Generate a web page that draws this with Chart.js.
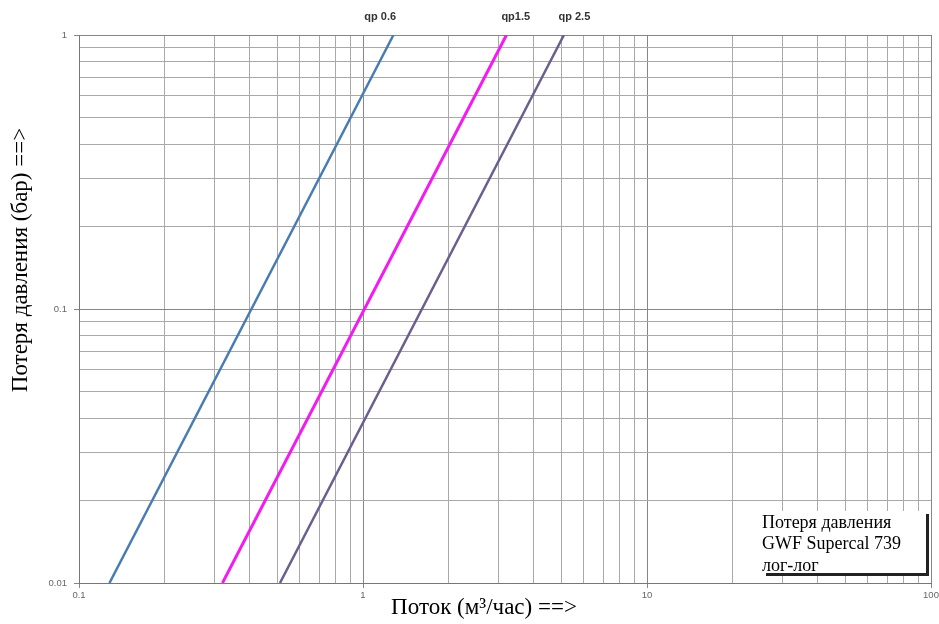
<!DOCTYPE html>
<html>
<head>
<meta charset="utf-8">
<script src="https://cdn.jsdelivr.net/npm/chart.js@4/dist/chart.umd.min.js"></script>
<style>
  html, body { margin: 0; padding: 0; background: #fff; }
  #wrap { width: 939px; height: 624px; }
</style>
</head>
<body>
<div id="wrap"><canvas id="myChart" width="939" height="624"></canvas></div>
<script>
// series names and end points (flow m3/h, loss bar)
var seriesNames = ["qp 0.6", "qp1.5", "qp 2.5"];
var seriesColors = ["#4a7cb2", "#f21bf0", "#6c5e8e"];
var lossValues = [0.01, 1];
var flowQp06 = [0.128, 1.28];
var flowQp15 = [0.32, 3.2];
var flowQp25 = [0.51, 5.1];
// where the qp names sit along the top (flow value)
var nameAt = [1.15, 3.45, 5.55];

// log axes: decade starts and the mantissas used for grid lines
var xDecades = [0.1, 1, 10];
var yDecades = [0.01, 0.1];
var mantissas = [1, 2, 3, 4, 5, 6, 7, 8, 9];
var xLabels = ["0.1", "1", "10", "100"];
var yLabels = ["0.01", "0.1", "1"];

function gridValues(decades, last) {
  var out = [];
  decades.forEach(function(d) {
    mantissas.forEach(function(m) { out.push(+(d * m).toPrecision(3)); });
  });
  out.push(last);
  return out;
}
var xTicks = gridValues(xDecades, 100);
var yTicks = gridValues(yDecades, 1);

function isDecade(v) {
  var l = Math.log10(v);
  return Math.abs(l - Math.round(l)) < 1e-9;
}

function pts(flows) {
  return flows.map(function(f, i) { return {x: f, y: lossValues[i]}; });
}
var allFlows = [flowQp06, flowQp15, flowQp25];

var extraText = {
  id: "extraText",
  afterDraw: function(chart) {
    var c = chart.ctx;
    var xs = chart.scales.x;
    c.save();
    // qp names over the lines
    c.fillStyle = "#333";
    c.font = "bold 11px 'Liberation Sans', Arial, sans-serif";
    c.textAlign = "center";
    c.textBaseline = "middle";
    for (var i = 0; i < seriesNames.length; i++) {
      c.fillText(seriesNames[i], xs.getPixelForValue(nameAt[i]), 17);
    }
    // axis titles
    c.fillStyle = "#000";
    c.font = "23px 'Liberation Serif', 'Times New Roman', serif";
    c.fillText("Поток (м³/час) ==>", 484, 608);
    c.save();
    c.translate(21, 260);
    c.rotate(-Math.PI / 2);
    c.fillText("Потеря давления (бар) ==>", 0, 0);
    c.restore();
    // note box bottom right
    c.fillStyle = "#222";
    c.fillRect(766, 573, 163, 3);
    c.fillRect(926, 514, 3, 62);
    c.fillStyle = "#fff";
    c.fillRect(761, 511, 165, 62);
    c.fillStyle = "#000";
    c.font = "18px 'Liberation Serif', 'Times New Roman', serif";
    c.textAlign = "left";
    c.textBaseline = "alphabetic";
    c.fillText("Потеря давления", 762, 528);
    c.fillText("GWF Supercal 739", 762, 549);
    c.fillText("лог-лог", 762, 571);
    c.restore();
  }
};

function gridColor(ctx) {
  return ctx.tick && isDecade(ctx.tick.value) ? "#868686" : "#a9a9a9";
}
function markColor(ctx) {
  return ctx.tick && isDecade(ctx.tick.value) ? "#868686" : "rgba(0,0,0,0)";
}

new Chart("myChart", {
  type: "line",
  data: {
    datasets: seriesNames.map(function(n, i) {
      return {
        label: n,
        data: pts(allFlows[i]),
        borderColor: seriesColors[i],
        borderWidth: i == 1 ? 3 : 2.5,
        pointRadius: 0,
        fill: false
      };
    })
  },
  options: {
    responsive: false,
    animation: false,
    layout: { padding: { left: 0, top: 35, right: 8, bottom: 0 } },
    plugins: {
      legend: { display: false },
      tooltip: { enabled: false }
    },
    scales: {
      x: {
        type: "logarithmic",
        min: 0.1,
        max: 100,
        afterBuildTicks: function(s) { s.ticks = xTicks.map(function(v) { return {value: v}; }); },
        afterFit: function(s) { s.height = 41; s.paddingLeft = 0; s.paddingRight = 0; },
        border: { color: "#777", width: 1 },
        grid: { color: gridColor, tickColor: markColor, tickLength: 5 },
        ticks: {
          autoSkip: false,
          maxRotation: 0,
          padding: 2,
          color: "#666",
          font: { family: "'Liberation Sans', Arial, sans-serif", size: 9.5 },
          callback: function(v) {
            return isDecade(v) ? xLabels[Math.round(Math.log10(v)) + 1] : "";
          }
        }
      },
      y: {
        type: "logarithmic",
        min: 0.01,
        max: 1,
        afterBuildTicks: function(s) { s.ticks = yTicks.map(function(v) { return {value: v}; }); },
        afterFit: function(s) { s.width = 79; },
        border: { color: "#777", width: 1 },
        grid: { color: gridColor, tickColor: markColor, tickLength: 5 },
        ticks: {
          autoSkip: false,
          padding: 7,
          color: "#666",
          font: { family: "'Liberation Sans', Arial, sans-serif", size: 9.5 },
          callback: function(v) {
            return isDecade(v) ? yLabels[Math.round(Math.log10(v)) + 2] : "";
          }
        }
      }
    }
  },
  plugins: [extraText]
});
</script>
</body>
</html>
